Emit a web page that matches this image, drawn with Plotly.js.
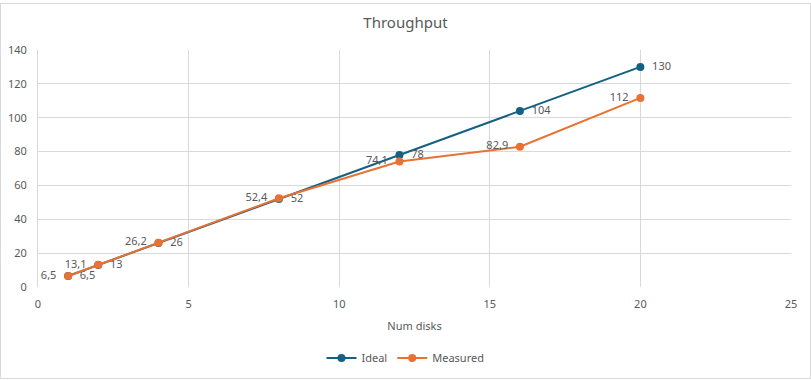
<!DOCTYPE html>
<html>
<head>
<meta charset="utf-8">
<script src="https://cdn.plot.ly/plotly-3.0.1.min.js"></script>
<style>
html,body{margin:0;padding:0;background:#fff;}
#frame{position:absolute;left:0;top:3px;width:809px;height:374px;border:1px solid #d9d9d9;}
#chart{position:absolute;left:0;top:0;width:811px;height:380px;}
</style>
</head>
<body>
<div id="frame"></div>
<div id="chart"></div>
<script>
const disks = [1, 2, 4, 8, 12, 16, 20];
const ideal = [6.5, 13, 26, 52, 78, 104, 130];
const measured = [6.5, 13.1, 26.2, 52.4, 74.1, 82.9, 111.7];
const idealLabels = ideal.map(v => '  ' + String(v).replace('.', ','));
const measuredLabels = measured.map(v => (v === 111.7 ? '112' : String(v).replace('.', ',')) + '  ');

const font = {family: 'Noto Sans, Open Sans, sans-serif', size: 11, color: '#595959'};

const traces = [
  {
    x: disks, y: ideal, name: 'Ideal', type: 'scatter', mode: 'lines+markers+text',
    text: idealLabels, textposition: 'middle right', textfont: font,
    line: {color: '#156082', width: 2}, marker: {color: '#156082', size: 8},
    cliponaxis: false
  },
  {
    x: disks, y: measured, name: 'Measured', type: 'scatter', mode: 'lines+markers+text',
    text: measuredLabels, textposition: 'middle left', textfont: font,
    line: {color: '#E97132', width: 2}, marker: {color: '#E97132', size: 8},
    cliponaxis: false
  }
];

const layout = {
  width: 811, height: 380,
  paper_bgcolor: 'rgba(0,0,0,0)', plot_bgcolor: 'rgba(0,0,0,0)',
  margin: {l: 38, r: 20, t: 50, b: 93},
  font: font,
  title: {text: 'Throughput', font: {family: 'Noto Sans, sans-serif', size: 15, color: '#595959'}, x: 0.5, xanchor: 'center', xref: 'container', y: 0.94, yanchor: 'middle'},
  xaxis: {
    range: [0, 25], dtick: 5, tick0: 0, showgrid: true, gridcolor: '#d9d9d9', gridwidth: 1,
    zeroline: false, showline: false, ticks: '', ticklen: 0, tickfont: font,
    ticklabelstandoff: 9, automargin: false,
    title: {text: 'Num disks', font: font, standoff: 12}
  },
  yaxis: {
    range: [0, 140], dtick: 20, showgrid: true, gridcolor: '#d9d9d9', gridwidth: 1,
    zeroline: false, showline: true, linecolor: '#d9d9d9', ticks: '', tickfont: font,
    ticklabelstandoff: 8, automargin: false
  },
  legend: {orientation: 'h', xref: 'container', x: 0.5, xanchor: 'center', yref: 'container', y: 22/380, yanchor: 'middle', font: font},
  showlegend: true
};

Plotly.newPlot('chart', traces, layout, {displayModeBar: false, staticPlot: true});
</script>
</body>
</html>
